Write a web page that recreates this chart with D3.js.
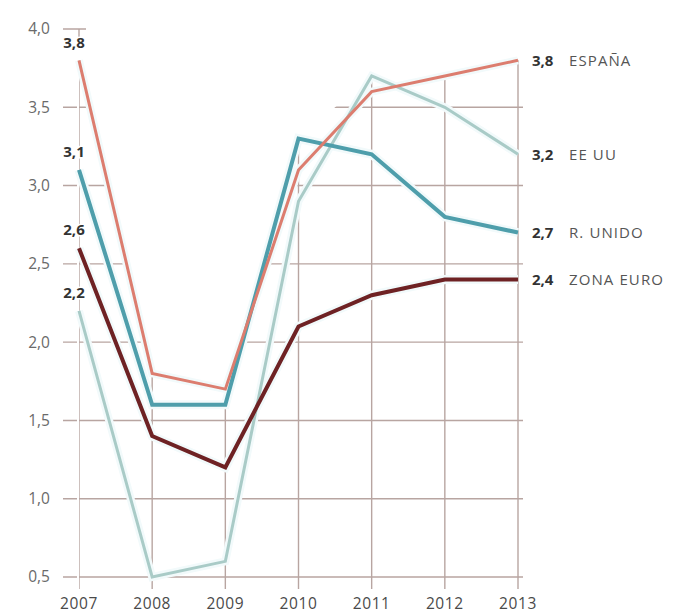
<!DOCTYPE html>
<html>
<head>
<meta charset="utf-8">
<script src="https://cdn.jsdelivr.net/npm/d3@7"></script>
<style>
  body { margin: 0; background: #fff; }
  svg { display: block; font-family: "Open Sans", sans-serif; }
</style>
</head>
<body>
<svg id="chart" width="677" height="613"></svg>
<script>
const years = [2007, 2008, 2009, 2010, 2011, 2012, 2013];
const yTicks = [0.5, 1.0, 1.5, 2.0, 2.5, 3.0, 3.5, 4.0];

const espana = [3.8, 1.8, 1.7, 3.1, 3.6, 3.7, 3.8];
const eeuu = [2.2, 0.5, 0.6, 2.9, 3.7, 3.5, 3.2];
const runido = [3.1, 1.6, 1.6, 3.3, 3.2, 2.8, 2.7];
const zonaEuro = [2.6, 1.4, 1.2, 2.1, 2.3, 2.4, 2.4];

const seriesNames = ['EE UU', 'R. UNIDO', 'ESPAÑA', 'ZONA EURO'];
const seriesValues = [eeuu, runido, espana, zonaEuro];

const colors = ['#a9cbc7', '#4e9eab', '#dc7d6f', '#6e2224'];
const widths = [3, 4, 3, 4];

const fmt = v => d3.format('.1f')(v).replace('.', ',');

const svg = d3.select('#chart');

const x = d3.scaleLinear().domain([2007, 2013]).range([79, 518]);
const y = d3.scaleLinear().domain([0.5, 4.0]).range([577, 29]);

// gridlines only show below the highest line
const maxVals = years.map((yr, i) => d3.max(seriesValues, s => s[i]));
const clip = svg.append('defs').append('clipPath').attr('id', 'gridclip');
clip.append('rect').attr('x', 0).attr('y', 0).attr('width', 86).attr('height', 40);
clip.append('rect').attr('x', 0).attr('y', 0).attr('width', 77).attr('height', 613);
clip.append('path')
    .attr('d', d3.area()
        .x((d, i) => x(years[i]))
        .y0(613)
        .y1(d => y(d))(maxVals));
clip.append('rect')
    .attr('x', x(2013) - 1).attr('y', y(maxVals[6]))
    .attr('width', 12).attr('height', 613);

const grid = svg.append('g').attr('clip-path', 'url(#gridclip)')
    .attr('stroke', '#b8a5a1').attr('stroke-width', 1.4);

grid.selectAll('line.h')
    .data(yTicks)
    .join('line')
    .attr('class', 'h')
    .attr('x1', 63).attr('x2', 523)
    .attr('y1', d => y(d)).attr('y2', d => y(d));

grid.selectAll('line.v')
    .data(years)
    .join('line')
    .attr('class', 'v')
    .attr('x1', d => x(d)).attr('x2', d => x(d))
    .attr('y1', y(4.0)).attr('y2', y(0.5) + 12);

// y axis labels
svg.append('g').selectAll('text')
    .data(yTicks)
    .join('text')
    .attr('x', 50)
    .attr('y', d => y(d))
    .attr('dy', '0.35em')
    .attr('text-anchor', 'end')
    .attr('font-size', 15.5)
    .attr('fill', '#6a6a6a')
    .text(d => fmt(d));

// x axis labels
svg.append('g').selectAll('text')
    .data(years)
    .join('text')
    .attr('x', d => x(d))
    .attr('y', 604)
    .attr('dy', '0.35em')
    .attr('text-anchor', 'middle')
    .attr('font-size', 15.5)
    .attr('letter-spacing', 0.6)
    .attr('fill', '#4a4a4a')
    .text(d => d);

const line = d3.line()
    .x((d, i) => x(years[i]))
    .y(d => y(d));

// white halo first, then lines
svg.append('g').selectAll('path')
    .data(seriesValues)
    .join('path')
    .attr('d', d => line(d))
    .attr('fill', 'none')
    .attr('stroke', '#f2fafb')
    .attr('stroke-width', (d, i) => widths[i] + 5)
    .attr('stroke-linejoin', 'miter');

svg.append('g').selectAll('path')
    .data(seriesValues)
    .join('path')
    .attr('d', d => line(d))
    .attr('fill', 'none')
    .attr('stroke', (d, i) => colors[i])
    .attr('stroke-width', (d, i) => widths[i])
    .attr('stroke-linejoin', 'miter');

// start values
svg.append('g').selectAll('text')
    .data(seriesValues)
    .join('text')
    .attr('x', 74)
    .attr('y', d => y(d[0]) - 18)
    .attr('dy', '0.35em')
    .attr('text-anchor', 'middle')
    .attr('font-size', 15)
    .attr('font-weight', 'bold')
    .attr('fill', '#333')
    .attr('stroke', '#fff')
    .attr('stroke-width', 3)
    .attr('paint-order', 'stroke')
    .text(d => fmt(d[0]));

// end labels
const endLab = svg.append('g').selectAll('g')
    .data(seriesValues)
    .join('g')
    .attr('transform', d => `translate(532,${y(d[6])})`);

endLab.append('text')
    .attr('dy', '0.35em')
    .attr('font-size', 15)
    .attr('font-weight', 'bold')
    .attr('fill', '#333')
    .text(d => fmt(d[6]));

endLab.append('text')
    .attr('x', 37)
    .attr('dy', '0.35em')
    .attr('font-size', 15)
    .attr('letter-spacing', 1.1)
    .attr('fill', '#555')
    .text((d, i) => seriesNames[i]);
</script>
</body>
</html>
